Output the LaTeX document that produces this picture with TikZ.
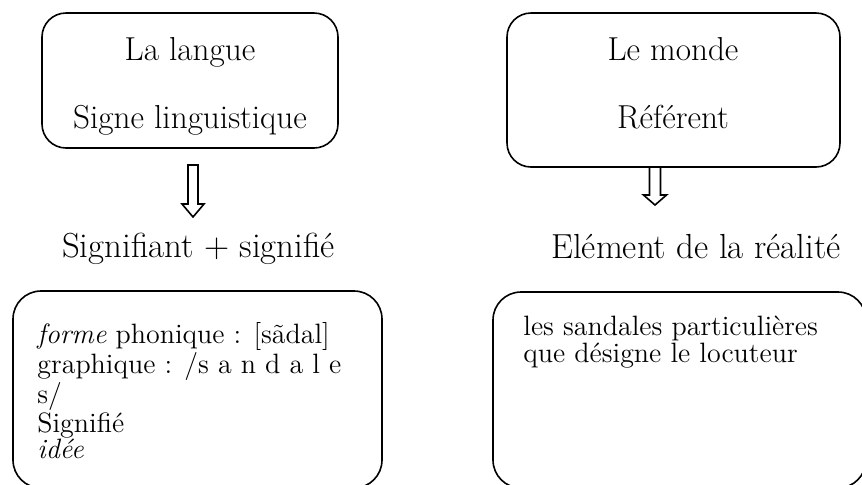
\documentclass[tikz,border=0pt]{standalone}
\usepackage{tikz}

\tikzset{
  boite/.style={rectangle,draw,line width=0.8pt,rounded corners=12pt},
  grandeboite/.style={boite,rounded corners=14pt},
  texteboite/.style={anchor=base,inner sep=0pt,font=\fontsize{16.6}{20}\selectfont},
  titre/.style={anchor=base,inner sep=0pt,font=\fontsize{17.4}{21}\selectfont},
  contenu/.style={anchor=north west,inner sep=0pt,align=left,font=\fontsize{14}{13.1}\selectfont},
  fleche/.style={draw,line width=0.8pt,line join=miter}
}

\begin{document}
\begin{tikzpicture}[x=0.5pt,y=-0.5pt]
\useasboundingbox (0,0) rectangle (862,484);
\clip (0,0) rectangle (862,484);
% boites du haut
\node [boite,minimum width=148pt,minimum height=67.5pt] (langue) at (190,80.5) {};
\node [texteboite] (lalangue) at (190,60) {La langue};
\node [texteboite] (signe) at (190,128) {Signe linguistique};
\node [boite,minimum width=166.5pt,minimum height=77pt] (monde) at (673.5,90) {};
\node [texteboite] (lemonde) at (673,60) {Le monde};
\node [texteboite] (referent) at (673,128) {Référent};
% fleches creuses
\draw [fleche,shift={(193,165)}] (-5,0) -- (-5,39) -- (-11,39) -- (0,52) -- (11,39) -- (5,39) -- (5,0) -- cycle;
\draw [fleche,shift={(655,167)}] (-5.5,0) -- (-5.5,28) -- (-11.5,28) -- (0,38) -- (11.5,28) -- (5.5,28) -- (5.5,0) -- cycle;
% titres
\node [titre] (signifiant) at (198.5,257) {Signifiant + signifié};
\node [titre] (element) at (696,258) {Elément de la réalité};
% boites du bas
\node [grandeboite,minimum width=184.5pt,minimum height=98.5pt] (forme) at (197.5,389.5) {};
\node [contenu] (formetexte) at (37,322) {\textit{forme} phonique : [sãdal]\\graphique : /s a n d a l e\\s/\\Signifié\\\textit{idée}};
\node [grandeboite,minimum width=186.5pt,minimum height=98pt] (sandales) at (679.5,390) {};
\node [contenu,font=\fontsize{14}{13.5}\selectfont] (sandalestexte) at (523,316) {les sandales particulières\\que désigne le locuteur};
\end{tikzpicture}
\end{document}
